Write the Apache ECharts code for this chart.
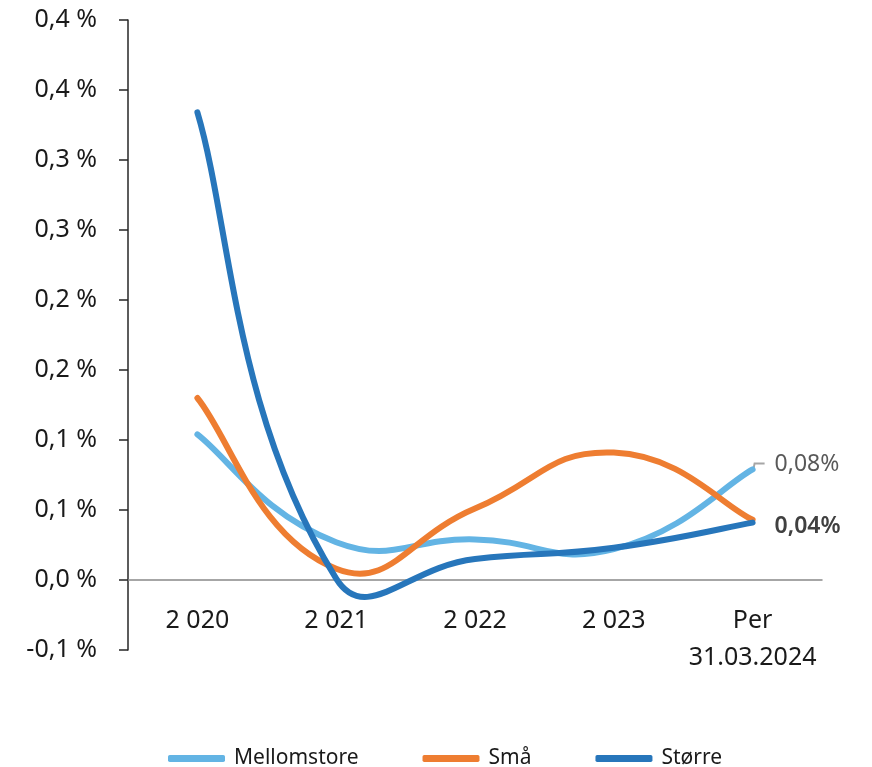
<!DOCTYPE html>
<html>
<head>
<meta charset="utf-8">
<script src="https://cdn.jsdelivr.net/npm/echarts@6/dist/echarts.min.js"></script>
<style>
  html, body { margin: 0; padding: 0; background: #fff; }
  #chart { width: 872px; height: 767px; }
</style>
</head>
<body>
<div id="chart"></div>
<script>
// kategorier og verdier (i prosent)
var categories = ['2 020', '2 021', '2 022', '2 023', 'Per\n31.03.2024'];
var mellomstore = [0.104, 0.027, 0.029, 0.022, 0.079];
var smaa        = [0.130, 0.008, 0.051, 0.091, 0.043];
var storre      = [0.334, 0.001, 0.015, 0.023, 0.041];

// y-akse etiketter fra -0,05 til 0,40 i steg på 0,05
var yTickLabels = ['-0,1 %', '0,0 %', '0,1 %', '0,1 %', '0,2 %', '0,2 %', '0,3 %', '0,3 %', '0,4 %', '0,4 %'];
var endLabels = ['0,08%', '0,04%'];

var FONT = 'Noto Sans';
var chart = echarts.init(document.getElementById('chart'));

// glatt kurve som i Excel (uten ECharts sin begrensning mot overskyting)
function smoothPath(pts, s) {
  var d = 'M' + pts[0][0] + ' ' + pts[0][1];
  var cps = pts.map(function (p, i) {
    var prev = pts[i - 1] || p, next = pts[i + 1] || p;
    var vx = next[0] - prev[0], vy = next[1] - prev[1];
    var lp = Math.hypot(p[0] - prev[0], p[1] - prev[1]);
    var ln = Math.hypot(next[0] - p[0], next[1] - p[1]);
    var r = (lp + ln) ? ln / (lp + ln) : 0.5;
    var f = (i === 0 || i === pts.length - 1) ? 0.5 : 1;
    return {
      before: [p[0] - vx * s * (1 - r) * f, p[1] - vy * s * (1 - r) * f],
      after: [p[0] + vx * s * r * f, p[1] + vy * s * r * f]
    };
  });
  for (var i = 1; i < pts.length; i++) {
    var a = cps[i - 1].after, b = cps[i].before;
    d += ' C' + a[0] + ' ' + a[1] + ' ' + b[0] + ' ' + b[1] + ' ' + pts[i][0] + ' ' + pts[i][1];
  }
  return d;
}

function makeSeries(name, values, color, endLabel) {
  return {
    name: name,
    type: 'custom',
    itemStyle: { color: color },
    data: values.map(function (v, i) { return [i, v]; }),
    encode: { x: 0, y: 1 },
    renderItem: function (params, api) {
      if (params.dataIndex !== 0) return null;
      var pts = values.map(function (v, i) { return api.coord([i, v]); });
      var children = [{
        type: 'path',
        shape: { pathData: smoothPath(pts, 0.48) },
        style: { stroke: color, lineWidth: 6, fill: 'none', lineCap: 'round', lineJoin: 'round' }
      }];
      if (endLabel) {
        var last = pts[pts.length - 1];
        if (endLabel.leader) {
          children.push({
            type: 'polyline',
            shape: { points: [[last[0] + 1, last[1] - 1], [last[0] + 2, last[1] - 6], [last[0] + 12, last[1] - 6]] },
            style: { stroke: '#a6a6a6', lineWidth: 2, fill: 'none' },
            z2: -1
          });
        }
        children.push({
          type: 'text',
          x: last[0] + 22,
          y: last[1] + endLabel.dy,
          style: {
            text: endLabel.text,
            fill: endLabel.color,
            fontFamily: FONT,
            fontSize: 23,
            fontWeight: endLabel.weight || 'normal',
            verticalAlign: 'middle',
            align: 'left'
          }
        });
      }
      return { type: 'group', children: children };
    }
  };
}

var option = {
  backgroundColor: '#fff',
  animation: false,
  grid: { left: 128, right: 50, top: 20, bottom: 117 },
  legend: {
    left: 163,
    top: 743,
    icon: 'roundRect',
    itemWidth: 57,
    itemHeight: 7,
    itemGap: 64,
    textStyle: { fontFamily: FONT, fontSize: 21, color: '#1a1a1a', padding: [0, 0, 0, 4] },
    data: ['Mellomstore', 'Små', 'Større']
  },
  xAxis: {
    type: 'category',
    data: categories,
    boundaryGap: true,
    axisLine: { onZero: true, lineStyle: { color: '#898989', width: 1.5 } },
    axisTick: { alignWithLabel: true, length: 5, lineStyle: { color: '#898989', width: 1.5 } },
    axisLabel: {
      margin: -48,
      fontFamily: FONT,
      fontSize: 25,
      color: '#1a1a1a',
      lineHeight: 37,
      interval: 0
    }
  },
  yAxis: {
    type: 'value',
    min: -0.05,
    max: 0.4,
    interval: 0.05,
    splitLine: { show: false },
    axisLine: { show: true, lineStyle: { color: '#262626', width: 1.5 } },
    axisTick: { show: true, inside: false, length: 9, lineStyle: { color: '#262626', width: 1.5 } },
    axisLabel: {
      margin: 31,
      fontFamily: FONT,
      fontSize: 25,
      color: '#1a1a1a',
      formatter: function (v) {
        var idx = Math.round((v + 0.05) / 0.05);
        return yTickLabels[idx];
      }
    }
  },
  series: [
    makeSeries('Mellomstore', mellomstore, '#63b4e4', { text: endLabels[0], color: '#595959', dy: -5, leader: true }),
    makeSeries('Små', smaa, '#ee7d31', null),
    makeSeries('Større', storre, '#2776bb', { text: endLabels[1], color: '#404040', dy: 4, weight: 600 })
  ]
};

chart.setOption(option);
</script>
</body>
</html>
